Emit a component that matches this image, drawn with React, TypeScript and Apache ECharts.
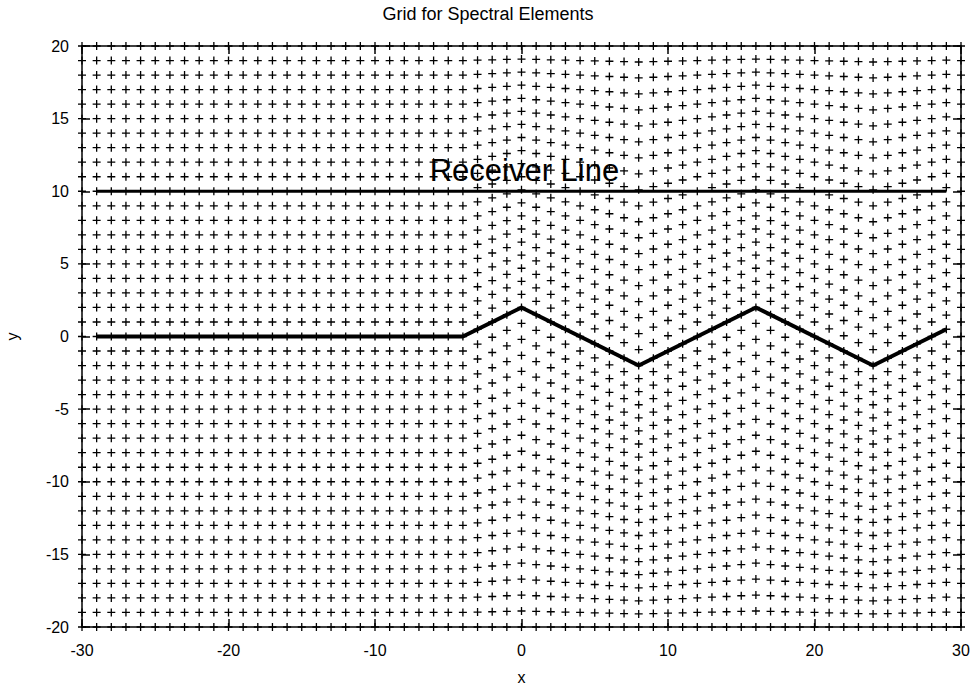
import React, { useEffect, useRef } from "react";
import * as echarts from "echarts";

// Mesh node columns and rows (undeformed), one unit apart
const X_NODES = [
  -30, -29, -28, -27, -26, -25, -24, -23, -22, -21, -20, -19, -18, -17, -16, -15, -14, -13, -12, -11,
  -10, -9, -8, -7, -6, -5, -4, -3, -2, -1, 0, 1, 2, 3, 4, 5, 6, 7, 8, 9, 10, 11, 12, 13, 14, 15, 16,
  17, 18, 19, 20, 21, 22, 23, 24, 25, 26, 27, 28, 29, 30,
];
const Y_NODES = [
  -20, -19, -18, -17, -16, -15, -14, -13, -12, -11, -10, -9, -8, -7, -6, -5, -4, -3, -2, -1, 0, 1, 2,
  3, 4, 5, 6, 7, 8, 9, 10, 11, 12, 13, 14, 15, 16, 17, 18, 19, 20,
];

// Topography (free surface) polyline
const TOPO_X = [-29, -4, 0, 8, 16, 24, 29];
const TOPO_Y = [0, 0, 2, -2, 2, -2, 0.5];

// Receiver line
const RECEIVER_X = [-29, 29];
const RECEIVER_Y = [10, 10];
const RECEIVER_LABEL = "Receiver Line";
const RECEIVER_LABEL_POS = [0.2, 11.4];

const X_MIN = -30;
const X_MAX = 30;
const Y_MIN = -20;
const Y_MAX = 20;

function topoAt(x: number): number {
  if (x <= TOPO_X[0]) return TOPO_Y[0];
  for (let i = 0; i < TOPO_X.length - 1; i++) {
    const x0 = TOPO_X[i];
    const x1 = TOPO_X[i + 1];
    if (x >= x0 && x <= x1) {
      const t = (x - x0) / (x1 - x0);
      return TOPO_Y[i] + t * (TOPO_Y[i + 1] - TOPO_Y[i]);
    }
  }
  return TOPO_Y[TOPO_Y.length - 1];
}

function meshNodes(): number[][] {
  const pts: number[][] = [];
  for (const x of X_NODES) {
    const onSide = x === X_MIN || x === X_MAX;
    const h = onSide ? 0 : topoAt(x);
    for (const y of Y_NODES) {
      const w = y >= 0 ? 1 - y / Y_MAX : 1 - y / Y_MIN;
      pts.push([x, y + h * w]);
    }
  }
  return pts;
}

const FONT = "'Liberation Sans', Arial, Helvetica, sans-serif";

export default function App() {
  const ref = useRef<HTMLDivElement>(null);

  useEffect(() => {
    if (!ref.current) return;
    const chart = echarts.init(ref.current, undefined, { renderer: "svg" });

    const axisLine = { show: true, onZero: false, lineStyle: { color: "#000", width: 1.5 } };
    const baseX = {
      type: "value" as const,
      min: X_MIN,
      max: X_MAX,
      interval: 10,
      axisLine,
      axisTick: { show: true, inside: true, length: 8, lineStyle: { color: "#000", width: 1.5 } },
      splitLine: { show: false },
    };
    const baseY = {
      type: "value" as const,
      min: Y_MIN,
      max: Y_MAX,
      interval: 5,
      axisLine,
      axisTick: { show: true, inside: true, length: 8, lineStyle: { color: "#000", width: 1.5 } },
      splitLine: { show: false },
    };

    chart.setOption({
      animation: false,
      backgroundColor: "#fff",
      title: {
        text: "Grid for Spectral Elements",
        left: "center",
        top: 0,
        textStyle: { fontFamily: FONT, fontSize: 18, fontWeight: "normal", color: "#000" },
      },
      grid: {
        left: 82,
        right: 15,
        top: 46,
        bottom: 57,
        containLabel: false,
        outerBoundsMode: "none",
      },
      xAxis: [
        {
          ...baseX,
          position: "bottom",
          axisLabel: { fontFamily: FONT, fontSize: 16, color: "#000", margin: 15 },
          name: "x",
          nameLocation: "middle",
          nameGap: 42,
          nameTextStyle: { fontFamily: FONT, fontSize: 16, color: "#000" },
        },
        { ...baseX, position: "top", axisLabel: { show: false } },
      ],
      yAxis: [
        {
          ...baseY,
          position: "left",
          axisLabel: { fontFamily: FONT, fontSize: 16, color: "#000", margin: 13 },
          name: "y",
          nameLocation: "middle",
          nameGap: 62,
          nameRotate: 90,
          nameTextStyle: { fontFamily: FONT, fontSize: 16, color: "#000" },
        },
        { ...baseY, position: "right", axisLabel: { show: false } },
      ],
      series: [
        {
          type: "scatter",
          z: 1,
          xAxisIndex: 0,
          yAxisIndex: 0,
          data: [RECEIVER_LABEL_POS],
          symbolSize: 0,
          silent: true,
          itemStyle: { color: "#000", opacity: 1 },
          label: {
            show: true,
            position: "inside",
            formatter: RECEIVER_LABEL,
            fontFamily: FONT,
            fontSize: 31,
            color: "#000",
            opacity: 1,
            textBorderWidth: 0,
            textBorderColor: "transparent",
          },
        },
        {
          type: "scatter",
          z: 3,
          xAxisIndex: 0,
          yAxisIndex: 0,
          data: meshNodes(),
          symbol: "path://M5,0L5,10M0,5L10,5",
          symbolSize: 8,
          clip: false,
          silent: true,
          itemStyle: { color: "rgba(0,0,0,0)", borderColor: "#000", borderWidth: 1.3, opacity: 1 },
        },
        {
          type: "line",
          z: 4,
          xAxisIndex: 0,
          yAxisIndex: 0,
          data: RECEIVER_X.map((x, i) => [x, RECEIVER_Y[i]]),
          showSymbol: false,
          lineStyle: { color: "#000", width: 3 },
        },
        {
          type: "line",
          z: 4,
          xAxisIndex: 0,
          yAxisIndex: 0,
          data: TOPO_X.map((x, i) => [x, TOPO_Y[i]]),
          showSymbol: false,
          lineStyle: { color: "#000", width: 4 },
        },
      ],
    });

    return () => chart.dispose();
  }, []);

  return (
    <div
      ref={ref}
      style={{ position: "fixed", left: 0, top: 0, width: 976, height: 684, background: "#fff" }}
    />
  );
}
